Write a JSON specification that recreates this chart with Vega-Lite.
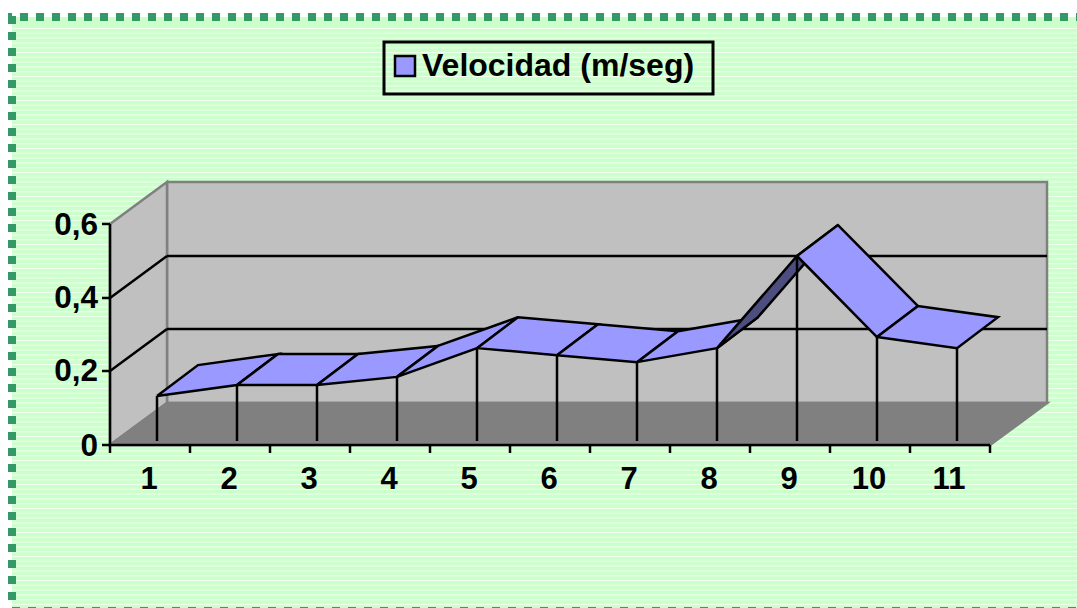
{
"$schema":"https://vega.github.io/schema/vega-lite/v6.json",
"width":1077,"height":608,"padding":0,
"autosize":{"type":"none"},
"background":"#FFFFFF",
"config":{"view":{"stroke":null},"font":"Liberation Sans"},
"datasets":{
"velocity":[{"x":1,"y":0.122},{"x":2,"y":0.152},{"x":3,"y":0.152},{"x":4,"y":0.174},{"x":5,"y":0.252},{"x":6,"y":0.233},{"x":7,"y":0.214},{"x":8,"y":0.252},{"x":9,"y":0.502},{"x":10,"y":0.282},{"x":11,"y":0.252}],
"panels":[
{"p":1,"n":1,"x":1,"y":0.122},{"p":1,"n":2,"x":2,"y":0.152},{"p":1,"n":3,"x":2.5125,"y":0.236},{"p":1,"n":4,"x":1.5125,"y":0.206},{"p":1,"n":5,"x":1,"y":0.122},
{"p":2,"n":1,"x":2,"y":0.152},{"p":2,"n":2,"x":3,"y":0.152},{"p":2,"n":3,"x":3.5125,"y":0.236},{"p":2,"n":4,"x":2.5125,"y":0.236},{"p":2,"n":5,"x":2,"y":0.152},
{"p":3,"n":1,"x":3,"y":0.152},{"p":3,"n":2,"x":4,"y":0.174},{"p":3,"n":3,"x":4.5125,"y":0.258},{"p":3,"n":4,"x":3.5125,"y":0.236},{"p":3,"n":5,"x":3,"y":0.152},
{"p":4,"n":1,"x":4,"y":0.174},{"p":4,"n":2,"x":5,"y":0.252},{"p":4,"n":3,"x":5.5125,"y":0.336},{"p":4,"n":4,"x":4.5125,"y":0.258},{"p":4,"n":5,"x":4,"y":0.174},
{"p":5,"n":1,"x":5,"y":0.252},{"p":5,"n":2,"x":6,"y":0.233},{"p":5,"n":3,"x":6.5125,"y":0.317},{"p":5,"n":4,"x":5.5125,"y":0.336},{"p":5,"n":5,"x":5,"y":0.252},
{"p":6,"n":1,"x":6,"y":0.233},{"p":6,"n":2,"x":7,"y":0.214},{"p":6,"n":3,"x":7.5125,"y":0.298},{"p":6,"n":4,"x":6.5125,"y":0.317},{"p":6,"n":5,"x":6,"y":0.233},
{"p":7,"n":1,"x":7,"y":0.214},{"p":7,"n":2,"x":8,"y":0.252},{"p":7,"n":3,"x":8.5125,"y":0.336},{"p":7,"n":4,"x":7.5125,"y":0.298},{"p":7,"n":5,"x":7,"y":0.214},
{"p":8,"n":1,"x":8,"y":0.252},{"p":8,"n":2,"x":9,"y":0.502},{"p":8,"n":3,"x":9.5125,"y":0.586},{"p":8,"n":4,"x":8.5125,"y":0.336},{"p":8,"n":5,"x":8,"y":0.252},
{"p":9,"n":1,"x":9,"y":0.502},{"p":9,"n":2,"x":10,"y":0.282},{"p":9,"n":3,"x":10.5125,"y":0.366},{"p":9,"n":4,"x":9.5125,"y":0.586},{"p":9,"n":5,"x":9,"y":0.502},
{"p":10,"n":1,"x":10,"y":0.282},{"p":10,"n":2,"x":11,"y":0.252},{"p":10,"n":3,"x":11.5125,"y":0.336},{"p":10,"n":4,"x":10.5125,"y":0.366},{"p":10,"n":5,"x":10,"y":0.282}
],
"walls":[
{"s":"back","n":1,"x":1.125,"y":0.7028},{"s":"back","n":2,"x":12.125,"y":0.7028},{"s":"back","n":3,"x":12.125,"y":0.1031},{"s":"back","n":4,"x":1.125,"y":0.1031},{"s":"back","n":5,"x":1.125,"y":0.7028},
{"s":"left","n":1,"x":0.4125,"y":0.5889},{"s":"left","n":2,"x":1.125,"y":0.7028},{"s":"left","n":3,"x":1.125,"y":0.1031},{"s":"left","n":4,"x":0.4125,"y":-0.0109},{"s":"left","n":5,"x":0.4125,"y":0.5889},
{"s":"floor","n":1,"x":0.4125,"y":-0.0109},{"s":"floor","n":2,"x":1.125,"y":0.1031},{"s":"floor","n":3,"x":12.125,"y":0.1031},{"s":"floor","n":4,"x":11.4125,"y":-0.0109},{"s":"floor","n":5,"x":0.4125,"y":-0.0109}
],
"blackLines":[
{"x":1.125,"x2":12.125,"y":0.502,"y2":0.502},{"x":1.125,"x2":12.125,"y":0.3039,"y2":0.3039},
{"x":0.4125,"x2":1.125,"y":0.3881,"y2":0.502},{"x":0.4125,"x2":1.125,"y":0.19,"y2":0.3039}
],
"axisLines":[
{"x":0.4125,"x2":0.4125,"y":0.5889,"y2":-0.0109},{"x":0.4125,"x2":11.4125,"y":-0.0109,"y2":-0.0109},
{"x":0.3125,"x2":0.4125,"y":0.5889,"y2":0.5889},{"x":0.3125,"x2":0.4125,"y":0.3881,"y2":0.3881},{"x":0.3125,"x2":0.4125,"y":0.19,"y2":0.19},{"x":0.3125,"x2":0.4125,"y":-0.0109,"y2":-0.0109},
{"x":0.4125,"x2":0.4125,"y":-0.0109,"y2":-0.0326},{"x":1.4125,"x2":1.4125,"y":-0.0109,"y2":-0.0326},{"x":2.4125,"x2":2.4125,"y":-0.0109,"y2":-0.0326},{"x":3.4125,"x2":3.4125,"y":-0.0109,"y2":-0.0326},{"x":4.4125,"x2":4.4125,"y":-0.0109,"y2":-0.0326},{"x":5.4125,"x2":5.4125,"y":-0.0109,"y2":-0.0326},{"x":6.4125,"x2":6.4125,"y":-0.0109,"y2":-0.0326},{"x":7.4125,"x2":7.4125,"y":-0.0109,"y2":-0.0326},{"x":8.4125,"x2":8.4125,"y":-0.0109,"y2":-0.0326},{"x":9.4125,"x2":9.4125,"y":-0.0109,"y2":-0.0326},{"x":10.4125,"x2":10.4125,"y":-0.0109,"y2":-0.0326},{"x":11.4125,"x2":11.4125,"y":-0.0109,"y2":-0.0326}
],
"yLabels":[{"x":0.2625,"y":0.5834,"t":"0,6"},{"x":0.2625,"y":0.3853,"t":"0,4"},{"x":0.2625,"y":0.1872,"t":"0,2"},{"x":0.2625,"y":-0.0163,"t":"0"}],
"xLabels":[{"x":0.9,"y":-0.1058,"t":"1"},{"x":1.9,"y":-0.1058,"t":"2"},{"x":2.9,"y":-0.1058,"t":"3"},{"x":3.9,"y":-0.1058,"t":"4"},{"x":4.9,"y":-0.1058,"t":"5"},{"x":5.9,"y":-0.1058,"t":"6"},{"x":6.9,"y":-0.1058,"t":"7"},{"x":7.9,"y":-0.1058,"t":"8"},{"x":8.9,"y":-0.1058,"t":"9"},{"x":9.9,"y":-0.1058,"t":"10"},{"x":10.9,"y":-0.1058,"t":"11"}]
},
"encoding":{
"x":{"field":"x","type":"quantitative","scale":{"domain":[-0.9625,12.5],"nice":false,"zero":false},"axis":null},
"y":{"field":"y","type":"quantitative","scale":{"domain":[-0.4532,1.1967],"nice":false,"zero":false},"axis":null}
},
"layer":[
{"data":{"values":[{"x":-0.8125,"x2":12.5,"y":1.1506,"y2":-0.4532}]},"mark":{"type":"rect","fill":"#CCFFCC"},"encoding":{"x2":{"field":"x2"},"y2":{"field":"y2"}}},
{"data":{"values":[{"x":5.8438,"y":1.1207,"y2":-0.4532}]},"mark":{"type":"rule","stroke":"#FFFFFF","strokeWidth":1065,"strokeDash":[1,3.8],"opacity":0.7},"encoding":{"y2":{"field":"y2"}}},
{"data":{"values":[{"x":-0.8625,"x2":12.5,"y":1.1506,"y2":1.1506}]},"mark":{"type":"rule","stroke":"#339966","strokeWidth":8,"strokeDash":[8,8],"strokeDashOffset":4},"encoding":{"x2":{"field":"x2"},"y2":{"field":"y2"}}},
{"data":{"values":[{"x":-0.8125,"x2":-0.8125,"y":1.1533,"y2":-0.4532}]},"mark":{"type":"rule","stroke":"#339966","strokeWidth":8,"strokeDash":[8,8]},"encoding":{"x2":{"field":"x2"},"y2":{"field":"y2"}}},
{"data":{"values":[{"x":-0.8125,"x2":12.5,"y":-0.4613,"y2":-0.4613}]},"mark":{"type":"rule","stroke":"#339966","strokeWidth":8,"strokeDash":[8,8]},"encoding":{"x2":{"field":"x2"},"y2":{"field":"y2"}}},
{"data":{"name":"walls"},"transform":[{"filter":"datum.s!='floor'"}],"mark":{"type":"line","fill":"#C0C0C0","stroke":"#808080","strokeWidth":2.5},"encoding":{"detail":{"field":"s"},"order":{"field":"n"}}},
{"data":{"name":"walls"},"transform":[{"filter":"datum.s=='floor'"}],"mark":{"type":"line","fill":"#808080","stroke":"#808080","strokeWidth":2.5},"encoding":{"detail":{"field":"s"},"order":{"field":"n"}}},
{"data":{"name":"blackLines"},"mark":{"type":"rule","stroke":"#000000","strokeWidth":2.5},"encoding":{"x2":{"field":"x2"},"y2":{"field":"y2"}}},
{"data":{"name":"panels"},"transform":[{"filter":"datum.p<=7"}],"mark":{"type":"line","stroke":"#000000","strokeWidth":2.5},"encoding":{"detail":{"field":"p"},"order":{"field":"n"},"fill":{"datum":"Velocidad (m/seg)","scale":{"range":["#9999FF"]},"legend":{"title":null,"orient":"none","legendX":389,"legendY":50,"padding":0,"symbolType":"square","symbolSize":400,"symbolStrokeColor":"#000000","symbolStrokeWidth":2.5,"symbolOpacity":1,"labelFont":"Liberation Sans","labelFontWeight":"bold","labelFontSize":32,"labelColor":"#000000","labelLimit":400,"labelOffset":1,"rowPadding":0}}}},
{"data":{"name":"panels"},"transform":[{"filter":"datum.p==8"}],"mark":{"type":"line","fill":"#4D4D80","stroke":"#000000","strokeWidth":2.5},"encoding":{"detail":{"field":"p"},"order":{"field":"n"}}},
{"data":{"name":"panels"},"transform":[{"filter":"datum.p>=9"}],"mark":{"type":"line","fill":"#9999FF","stroke":"#000000","strokeWidth":2.5},"encoding":{"detail":{"field":"p"},"order":{"field":"n"}}},
{"data":{"name":"velocity"},"mark":{"type":"rule","stroke":"#000000","strokeWidth":2.5},"encoding":{"y2":{"datum":0}}},
{"data":{"name":"axisLines"},"mark":{"type":"rule","stroke":"#000000","strokeWidth":2.5},"encoding":{"x2":{"field":"x2"},"y2":{"field":"y2"}}},
{"data":{"name":"yLabels"},"mark":{"type":"text","align":"right","baseline":"middle","fontWeight":"bold","fontSize":31.5,"font":"Liberation Sans","fill":"#000000"},"encoding":{"text":{"field":"t"}}},
{"data":{"name":"xLabels"},"mark":{"type":"text","align":"center","baseline":"middle","fontWeight":"bold","fontSize":31,"font":"Liberation Sans","fill":"#000000"},"encoding":{"text":{"field":"t"}}},
{"data":{"values":[{"x":3.8375,"x2":7.95,"y":1.0828,"y2":0.9417}]},"mark":{"type":"rect","fill":null,"stroke":"#000000","strokeWidth":3},"encoding":{"x2":{"field":"x2"},"y2":{"field":"y2"}}}
]
}
